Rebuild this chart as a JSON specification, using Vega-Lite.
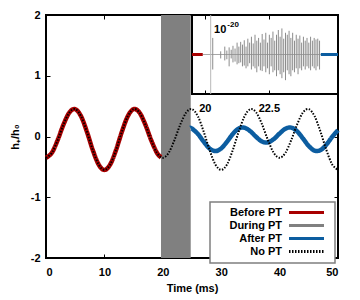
{
  "$schema": "https://vega.github.io/schema/vega-lite/v6.json",
  "width": 292,
  "height": 243,
  "autosize": {"type": "none"},
  "padding": {"left": 46, "top": 15, "right": 22, "bottom": 42},
  "config": {
    "view": {"stroke": "#000000", "strokeWidth": 2},
    "font": "Liberation Sans",
    "axis": {
      "labelFont": "Liberation Sans", "labelFontWeight": "bold", "labelFontSize": 11, "labelColor": "#000000",
      "titleFont": "Liberation Sans", "titleFontWeight": "bold", "titleFontSize": 11, "titleColor": "#000000",
      "tickColor": "#000000", "tickWidth": 1, "tickSize": -4, "domain": false, "grid": false
    },
    "legend": {"strokeWidth": 1.5}
  },
  "datasets": {
    "wave": [
      {"t": 0, "h": -0.35, "series": "Before PT"}, {"t": 1, "h": -0.269, "series": "Before PT"}, {"t": 2, "h": -0.058, "series": "Before PT"},
      {"t": 3, "h": 0.198, "series": "Before PT"}, {"t": 4, "h": 0.395, "series": "Before PT"}, {"t": 5, "h": 0.45, "series": "Before PT"},
      {"t": 6, "h": 0.333, "series": "Before PT"}, {"t": 7, "h": 0.08, "series": "Before PT"}, {"t": 8, "h": -0.22, "series": "Before PT"},
      {"t": 9, "h": -0.459, "series": "Before PT"}, {"t": 10, "h": -0.55, "series": "Before PT"}, {"t": 11, "h": -0.459, "series": "Before PT"},
      {"t": 12, "h": -0.22, "series": "Before PT"}, {"t": 13, "h": 0.08, "series": "Before PT"}, {"t": 14, "h": 0.333, "series": "Before PT"},
      {"t": 15, "h": 0.45, "series": "Before PT"}, {"t": 16, "h": 0.395, "series": "Before PT"}, {"t": 17, "h": 0.198, "series": "Before PT"},
      {"t": 18, "h": -0.058, "series": "Before PT"}, {"t": 19, "h": -0.269, "series": "Before PT"}, {"t": 19.7, "h": -0.342, "series": "Before PT"},
      {"t": 24.7, "h": 0.144, "series": "After PT"}, {"t": 25, "h": 0.131, "series": "After PT"}, {"t": 26, "h": 0.043, "series": "After PT"},
      {"t": 27, "h": -0.085, "series": "After PT"}, {"t": 28, "h": -0.196, "series": "After PT"}, {"t": 29, "h": -0.24, "series": "After PT"},
      {"t": 30, "h": -0.196, "series": "After PT"}, {"t": 31, "h": -0.085, "series": "After PT"}, {"t": 32, "h": 0.043, "series": "After PT"},
      {"t": 33, "h": 0.131, "series": "After PT"}, {"t": 34, "h": 0.144, "series": "After PT"}, {"t": 35, "h": 0.085, "series": "After PT"},
      {"t": 36, "h": -0.008, "series": "After PT"}, {"t": 37, "h": -0.083, "series": "After PT"}, {"t": 38, "h": -0.097, "series": "After PT"},
      {"t": 39, "h": -0.043, "series": "After PT"}, {"t": 40, "h": 0.049, "series": "After PT"}, {"t": 41, "h": 0.128, "series": "After PT"},
      {"t": 42, "h": 0.146, "series": "After PT"}, {"t": 43, "h": 0.086, "series": "After PT"}, {"t": 44, "h": -0.032, "series": "After PT"},
      {"t": 45, "h": -0.157, "series": "After PT"}, {"t": 46, "h": -0.233, "series": "After PT"}, {"t": 47, "h": -0.224, "series": "After PT"},
      {"t": 48, "h": -0.135, "series": "After PT"}, {"t": 49, "h": -0.006, "series": "After PT"}, {"t": 50, "h": 0.104, "series": "After PT"},
      {"t": 0, "h": -0.35, "series": "No PT"}, {"t": 1, "h": -0.269, "series": "No PT"}, {"t": 2, "h": -0.058, "series": "No PT"},
      {"t": 3, "h": 0.198, "series": "No PT"}, {"t": 4, "h": 0.395, "series": "No PT"}, {"t": 5, "h": 0.45, "series": "No PT"},
      {"t": 6, "h": 0.333, "series": "No PT"}, {"t": 7, "h": 0.08, "series": "No PT"}, {"t": 8, "h": -0.22, "series": "No PT"},
      {"t": 9, "h": -0.459, "series": "No PT"}, {"t": 10, "h": -0.55, "series": "No PT"}, {"t": 11, "h": -0.459, "series": "No PT"},
      {"t": 12, "h": -0.22, "series": "No PT"}, {"t": 13, "h": 0.08, "series": "No PT"}, {"t": 14, "h": 0.333, "series": "No PT"},
      {"t": 15, "h": 0.45, "series": "No PT"}, {"t": 16, "h": 0.395, "series": "No PT"}, {"t": 17, "h": 0.198, "series": "No PT"},
      {"t": 18, "h": -0.058, "series": "No PT"}, {"t": 19, "h": -0.269, "series": "No PT"}, {"t": 20, "h": -0.35, "series": "No PT"},
      {"t": 21, "h": -0.269, "series": "No PT"}, {"t": 22, "h": -0.058, "series": "No PT"}, {"t": 23, "h": 0.198, "series": "No PT"},
      {"t": 24, "h": 0.395, "series": "No PT"}, {"t": 25, "h": 0.45, "series": "No PT"}, {"t": 26, "h": 0.333, "series": "No PT"},
      {"t": 27, "h": 0.08, "series": "No PT"}, {"t": 28, "h": -0.22, "series": "No PT"}, {"t": 29, "h": -0.459, "series": "No PT"},
      {"t": 30, "h": -0.55, "series": "No PT"}, {"t": 31, "h": -0.459, "series": "No PT"}, {"t": 32, "h": -0.22, "series": "No PT"},
      {"t": 33, "h": 0.08, "series": "No PT"}, {"t": 34, "h": 0.333, "series": "No PT"}, {"t": 35, "h": 0.45, "series": "No PT"},
      {"t": 36, "h": 0.395, "series": "No PT"}, {"t": 37, "h": 0.198, "series": "No PT"}, {"t": 38, "h": -0.058, "series": "No PT"},
      {"t": 39, "h": -0.269, "series": "No PT"}, {"t": 40, "h": -0.35, "series": "No PT"}, {"t": 41, "h": -0.269, "series": "No PT"},
      {"t": 42, "h": -0.058, "series": "No PT"}, {"t": 43, "h": 0.198, "series": "No PT"}, {"t": 44, "h": 0.395, "series": "No PT"},
      {"t": 45, "h": 0.45, "series": "No PT"}, {"t": 46, "h": 0.333, "series": "No PT"}, {"t": 47, "h": 0.08, "series": "No PT"},
      {"t": 48, "h": -0.22, "series": "No PT"}, {"t": 49, "h": -0.459, "series": "No PT"}, {"t": 50, "h": -0.55, "series": "No PT"}
    ],
    "band": [{"t0": 19.69, "t1": 24.78, "series": "During PT"}],
    "inset_ends": [
      {"a": 19.5, "b": 19.92, "series": "Before PT"},
      {"a": 24.53, "b": 25.2, "series": "After PT"}
    ],
    "inset_base": [{"a": 19.92, "b": 24.53}],
    "spike_tall": [{"t": 20.23, "lo": -1, "hi": 1}],
    "spikes": [
      {"t": 20.31, "hi": 0.42, "lo": -0.38}, {"t": 20.62, "hi": 0.08, "lo": -0.1}, {"t": 20.78, "hi": 0.2, "lo": -0.15},
      {"t": 20.86, "hi": 0.1, "lo": -0.12}, {"t": 20.95, "hi": 0.18, "lo": -0.3}, {"t": 21.03, "hi": 0.12, "lo": -0.1},
      {"t": 21.1, "hi": 0.22, "lo": -0.2}, {"t": 21.18, "hi": 0.15, "lo": -0.18}, {"t": 21.26, "hi": 0.3, "lo": -0.25},
      {"t": 21.33, "hi": 0.2, "lo": -0.22}, {"t": 21.4, "hi": 0.32, "lo": -0.2}, {"t": 21.47, "hi": 0.25, "lo": -0.3},
      {"t": 21.54, "hi": 0.36, "lo": -0.28}, {"t": 21.61, "hi": 0.2, "lo": -0.35}, {"t": 21.68, "hi": 0.4, "lo": -0.3},
      {"t": 21.75, "hi": 0.3, "lo": -0.22}, {"t": 21.82, "hi": 0.45, "lo": -0.38}, {"t": 21.89, "hi": 0.28, "lo": -0.3},
      {"t": 21.96, "hi": 0.5, "lo": -0.35}, {"t": 22.03, "hi": 0.35, "lo": -0.45}, {"t": 22.1, "hi": 0.42, "lo": -0.3},
      {"t": 22.17, "hi": 0.3, "lo": -0.4}, {"t": 22.24, "hi": 0.52, "lo": -0.42}, {"t": 22.31, "hi": 0.38, "lo": -0.3},
      {"t": 22.38, "hi": 0.55, "lo": -0.45}, {"t": 22.45, "hi": 0.3, "lo": -0.35}, {"t": 22.52, "hi": 0.5, "lo": -0.5},
      {"t": 22.59, "hi": 0.42, "lo": -0.3}, {"t": 22.66, "hi": 0.58, "lo": -0.45}, {"t": 22.73, "hi": 0.35, "lo": -0.4},
      {"t": 22.8, "hi": 0.5, "lo": -0.55}, {"t": 22.87, "hi": 0.62, "lo": -0.4}, {"t": 22.94, "hi": 0.45, "lo": -0.5},
      {"t": 23.01, "hi": 0.66, "lo": -0.6}, {"t": 23.08, "hi": 0.4, "lo": -0.45}, {"t": 23.15, "hi": 0.55, "lo": -0.65},
      {"t": 23.22, "hi": 0.5, "lo": -0.4}, {"t": 23.29, "hi": 0.6, "lo": -0.5}, {"t": 23.36, "hi": 0.42, "lo": -0.55},
      {"t": 23.43, "hi": 0.55, "lo": -0.4}, {"t": 23.5, "hi": 0.35, "lo": -0.45}, {"t": 23.57, "hi": 0.5, "lo": -0.35},
      {"t": 23.64, "hi": 0.4, "lo": -0.5}, {"t": 23.71, "hi": 0.48, "lo": -0.35}, {"t": 23.78, "hi": 0.3, "lo": -0.4},
      {"t": 23.85, "hi": 0.45, "lo": -0.3}, {"t": 23.92, "hi": 0.35, "lo": -0.38}, {"t": 23.99, "hi": 0.42, "lo": -0.3},
      {"t": 24.06, "hi": 0.3, "lo": -0.35}, {"t": 24.13, "hi": 0.45, "lo": -0.4}, {"t": 24.2, "hi": 0.35, "lo": -0.3},
      {"t": 24.27, "hi": 0.42, "lo": -0.35}, {"t": 24.34, "hi": 0.38, "lo": -0.4}, {"t": 24.41, "hi": 0.4, "lo": -0.3},
      {"t": 24.48, "hi": 0.35, "lo": -0.38}
    ]
  },
  "layer": [
    {
      "layer": [
        {
          "data": {"name": "band"},
          "mark": {"type": "rect", "opacity": 1},
          "encoding": {
            "x": {"field": "t0", "type": "quantitative", "scale": {"domain": [0, 50], "nice": false, "zero": false},
                  "axis": {"orient": "bottom", "values": [0, 10, 20, 30, 40, 50], "title": "Time (ms)", "labelPadding": 12, "titlePadding": 5}},
            "x2": {"field": "t1"},
            "y": {"datum": -2, "type": "quantitative", "scale": {"domain": [-2, 2], "nice": false, "zero": false},
                  "axis": {"orient": "left", "values": [-2, -1, 0, 1, 2], "title": "h₊/h₀", "labelPadding": 10, "titlePadding": 10, "labelExpr": "'' + datum.value"}},
            "y2": {"datum": 2},
            "color": {
              "field": "series", "type": "nominal",
              "scale": {"domain": ["Before PT", "During PT", "After PT", "No PT"], "range": ["#a80000", "#808080", "#0c5da0", "#000000"]},
              "legend": {
                "title": null, "orient": "none", "legendX": 164, "legendY": 187, "zindex": 1,
                "padding": 5, "rowPadding": 0, "strokeColor": "#7f7f7f", "fillColor": "#ffffff",
                "labelFont": "Liberation Sans", "labelFontWeight": "bold", "labelFontSize": 11, "labelColor": "#000000",
                "labelAlign": "right", "labelOffset": -30, "symbolOffset": 86,
                "symbolType": "M-5,0H5", "symbolSize": 49, "symbolStrokeWidth": 3,
                "encode": {
                  "symbols": {
                    "shape": {"condition": {"test": "datum.value === 'During PT'", "value": "M-5,-0.85H5V0.85H-5Z"}, "value": "M-5,0H5"},
                    "size": {"value": 49},
                    "fill": {"condition": {"test": "datum.value === 'During PT'", "value": "#ffffff"}, "value": "transparent"},
                    "stroke": {"condition": [
                      {"test": "datum.value === 'Before PT'", "value": "#a80000"},
                      {"test": "datum.value === 'During PT'", "value": "#808080"},
                      {"test": "datum.value === 'After PT'", "value": "#0c5da0"}
                    ], "value": "#000000"},
                    "strokeWidth": {"condition": [
                      {"test": "datum.value === 'No PT'", "value": 1.5},
                      {"test": "datum.value === 'During PT'", "value": 2.2}
                    ], "value": 3},
                    "strokeDash": {"condition": {"test": "datum.value === 'No PT'", "value": [1.2, 1.3]}, "value": [1, 0]},
                    "opacity": {"value": 1}
                  }
                }
              }
            }
          }
        },
        {
          "data": {"name": "wave"},
          "transform": [{"filter": {"field": "series", "oneOf": ["Before PT", "After PT"]}}],
          "mark": {"type": "line", "strokeWidth": 4.5, "interpolate": "cardinal"},
          "encoding": {
            "x": {"field": "t", "type": "quantitative",
                  "axis": {"orient": "top", "values": [0, 10, 20, 30, 40, 50], "labels": false, "title": null}},
            "y": {"field": "h", "type": "quantitative",
                  "axis": {"orient": "right", "values": [-2, -1, 0, 1, 2], "labels": false, "title": null}},
            "color": {"field": "series", "type": "nominal"},
            "strokeDash": {"field": "series", "type": "nominal",
                           "scale": {"domain": ["Before PT", "During PT", "After PT", "No PT"], "range": [[1, 0], [1, 0], [1, 0], [1.5, 1.5]]}}
          }
        },
        {
          "data": {"name": "wave"},
          "transform": [{"filter": {"field": "series", "equal": "No PT"}}],
          "mark": {"type": "line", "strokeWidth": 2, "interpolate": "cardinal"},
          "encoding": {
            "x": {"field": "t", "type": "quantitative", "axis": null},
            "y": {"field": "h", "type": "quantitative", "axis": null},
            "color": {"field": "series", "type": "nominal"},
            "strokeDash": {"field": "series", "type": "nominal"}
          }
        }
      ],
      "resolve": {"axis": {"x": "independent", "y": "independent"}}
    },
    {
      "layer": [
        {
          "data": {"values": [{}]},
          "mark": {"type": "rect", "fill": "#ffffff", "stroke": "#000000", "strokeWidth": 2},
          "encoding": {
            "x": {"datum": 19.5, "type": "quantitative", "scale": {"domain": [13.8, 25.2], "nice": false, "zero": false},
                  "axis": {"orient": "bottom", "offset": -164, "values": [20, 22.5], "labelExpr": "'' + datum.value", "title": null, "labelPadding": 12, "zindex": 1}},
            "x2": {"datum": 25.2},
            "y": {"datum": -1, "type": "quantitative", "scale": {"domain": [-5.152, 1], "nice": false, "zero": false}, "axis": null},
            "y2": {"datum": 1}
          }
        },
        {
          "data": {"name": "inset_base"},
          "mark": {"type": "rule", "color": "#a6a6a6", "strokeWidth": 1},
          "encoding": {
            "x": {"field": "a", "type": "quantitative",
                  "axis": {"orient": "top", "values": [20, 22.5], "labels": false, "title": null, "zindex": 1}},
            "x2": {"field": "b"},
            "y": {"datum": 0, "type": "quantitative", "axis": null}
          }
        },
        {
          "data": {"name": "spike_tall"},
          "mark": {"type": "rule", "color": "#b8b8b8", "strokeWidth": 1},
          "encoding": {
            "x": {"field": "t", "type": "quantitative", "axis": null},
            "y": {"field": "lo", "type": "quantitative", "axis": null},
            "y2": {"field": "hi"}
          }
        },
        {
          "data": {"name": "spikes"},
          "mark": {"type": "rule", "color": "#8c8c8c", "strokeWidth": 1},
          "encoding": {
            "x": {"field": "t", "type": "quantitative", "axis": null},
            "y": {"field": "lo", "type": "quantitative", "axis": null},
            "y2": {"field": "hi"}
          }
        },
        {
          "data": {"name": "inset_ends"},
          "mark": {"type": "rule", "strokeWidth": 3},
          "encoding": {
            "x": {"field": "a", "type": "quantitative", "axis": null},
            "x2": {"field": "b"},
            "y": {"datum": 0, "type": "quantitative", "axis": null},
            "color": {"field": "series", "type": "nominal"}
          }
        },
        {
          "data": {"values": [{}]},
          "mark": {"type": "text", "text": "10", "align": "left", "baseline": "alphabetic", "font": "Liberation Sans", "fontWeight": "bold", "fontSize": 11, "color": "#000000"},
          "encoding": {
            "x": {"datum": 20.36, "type": "quantitative", "axis": null},
            "y": {"datum": 0.544, "type": "quantitative", "axis": null}
          }
        },
        {
          "data": {"values": [{}]},
          "mark": {"type": "text", "text": "-20", "align": "left", "baseline": "alphabetic", "font": "Liberation Sans", "fontWeight": "bold", "fontSize": 8, "color": "#000000"},
          "encoding": {
            "x": {"datum": 20.88, "type": "quantitative", "axis": null},
            "y": {"datum": 0.69, "type": "quantitative", "axis": null}
          }
        }
      ],
      "resolve": {"axis": {"x": "independent"}}
    }
  ],
  "resolve": {"scale": {"x": "independent", "y": "independent"}}
}
